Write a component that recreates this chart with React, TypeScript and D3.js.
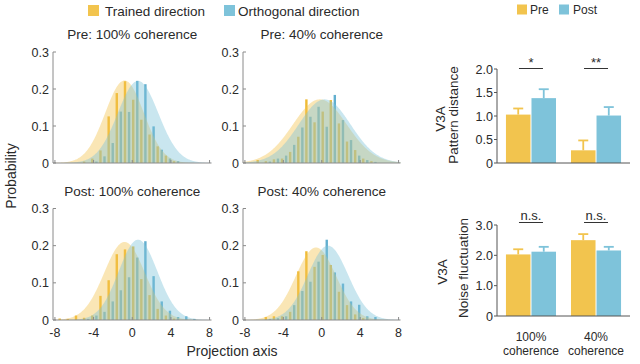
import React from "react";
import * as d3 from "d3";

const FONT = "'Liberation Sans', Arial, Helvetica, sans-serif";

// ---------- Histogram data ----------
const BIN_CENTERS = [-7.3, -6.46, -5.61, -4.77, -3.92, -3.08, -2.23, -1.39, -0.54, 0.31, 1.15, 2.0, 2.84, 3.69, 4.53, 5.38, 6.22, 7.07];

const PRE100_TRAINED = [0, 0, 0, 0.004, 0.012, 0.034, 0.126, 0.189, 0.221, 0.171, 0.117, 0.077, 0.045, 0.02, 0.005, 0, 0, 0];
const PRE100_ORTHO = [0, 0, 0, 0, 0.004, 0.018, 0.054, 0.139, 0.138, 0.222, 0.213, 0.099, 0.036, 0.012, 0.005, 0, 0, 0];

const PRE40_TRAINED = [0, 0.008, 0.005, 0.01, 0.012, 0.03, 0.071, 0.172, 0.11, 0.139, 0.17, 0.107, 0.058, 0.035, 0.012, 0.005, 0, 0];
const PRE40_ORTHO = [0, 0, 0.004, 0.012, 0.02, 0.049, 0.096, 0.125, 0.152, 0.098, 0.184, 0.116, 0.062, 0.02, 0.008, 0.003, 0, 0];

const POST100_TRAINED = [0.004, 0.003, 0.012, 0.006, 0.012, 0.065, 0.107, 0.177, 0.19, 0.198, 0.11, 0.067, 0.03, 0.012, 0.004, 0, 0, 0];
const POST100_ORTHO = [0, 0, 0, 0.003, 0.012, 0.022, 0.05, 0.08, 0.115, 0.168, 0.212, 0.118, 0.05, 0.025, 0.008, 0.01, 0.003, 0];

const POST40_TRAINED = [0, 0, 0.008, 0.01, 0.01, 0.022, 0.131, 0.185, 0.143, 0.175, 0.148, 0.076, 0.04, 0.015, 0.005, 0, 0, 0];
const POST40_ORTHO = [0, 0, 0.003, 0.005, 0.01, 0.04, 0.078, 0.103, 0.157, 0.216, 0.128, 0.098, 0.05, 0.041, 0.01, 0.008, 0, 0];

// fitted gaussian curves: [trained, orthogonal]
const CURVE_MEAN = [[-0.8, 0.6], [-0.2, 0.3], [-0.8, 0.6], [-0.6, 0.65]];
const CURVE_SD = [[2.0, 2.1], [2.8, 2.7], [2.1, 2.0], [2.1, 2.1]];
const CURVE_PEAK = [[0.223, 0.222], [0.172, 0.172], [0.21, 0.216], [0.195, 0.2]];

const HIST_TITLES = ["Pre: 100% coherence", "Pre: 40% coherence", "Post: 100% coherence", "Post: 40% coherence"];
const HIST_TRAINED = [PRE100_TRAINED, PRE40_TRAINED, POST100_TRAINED, POST40_TRAINED];
const HIST_ORTHO = [PRE100_ORTHO, PRE40_ORTHO, POST100_ORTHO, POST40_ORTHO];
const HIST_Y_TICKS = [0, 0.1, 0.2, 0.3];
const HIST_Y_LABELS = ["0", "0.1", "0.2", "0.3"];
const HIST_X_TICKS = [-8, -4, 0, 4, 8];

// ---------- Bar chart data ----------
const GROUPS = ["100%", "40%"];
const CONDS = ["Pre", "Post"];
const PATTERN_PRE = [1.03, 0.27];
const PATTERN_PRE_ERR = [0.13, 0.21];
const PATTERN_POST = [1.38, 1.01];
const PATTERN_POST_ERR = [0.19, 0.18];
const PATTERN_TICKS = [0, 0.5, 1, 1.5, 2];
const PATTERN_TICK_LABELS = ["0", "0.5", "1.0", "1.5", "2.0"];
const PATTERN_SIG = ["*", "**"];

const NOISE_PRE = [2.03, 2.5];
const NOISE_PRE_ERR = [0.17, 0.2];
const NOISE_POST = [2.12, 2.16];
const NOISE_POST_ERR = [0.16, 0.12];
const NOISE_TICKS = [0, 1, 2, 3];
const NOISE_TICK_LABELS = ["0", "1.0", "2.0", "3.0"];
const NOISE_SIG = ["n.s.", "n.s."];

const YELLOW = "#F2C44E";
const BLUE = "#7EC3DA";
const BAR_YELLOW = "#EFBB36";
const BAR_BLUE = "#62AFCF";
const AXIS_GREY = "#8a8a8a";
const TEXT = "#2a2a2a";

const BAR_OFFSET = 0.21;
const BAR_WIDTH = 0.25;

function HistPanel({ idx, left, right, bottom, top, showX }) {
  const x = d3.scaleLinear().domain([-8.2, 8.2]).range([left, right]);
  const y = d3.scaleLinear().domain([0, 0.3]).range([bottom, top]);
  const bw = x(BAR_WIDTH) - x(0);
  const grid = d3.range(-8.2, 8.2001, 0.05);
  const curve = (k) =>
    d3
      .area<number>()
      .x((v) => x(v))
      .y0(bottom)
      .y1((v) => {
        const m = CURVE_MEAN[idx][k];
        const s = CURVE_SD[idx][k];
        const p = CURVE_PEAK[idx][k];
        return y(p * Math.exp(-((v - m) ** 2) / (2 * s * s)));
      })(grid);
  const trained = HIST_TRAINED[idx];
  const ortho = HIST_ORTHO[idx];
  const cx = (left + right) / 2;
  return (
    <g>
      <text x={cx} y={top - 13} textAnchor="middle" fontSize={13.5} fill={TEXT}>
        {HIST_TITLES[idx]}
      </text>
      {BIN_CENTERS.map((c, i) =>
        trained[i] > 0 ? (
          <rect key={"t" + i} x={x(c - BAR_OFFSET) - bw / 2} y={y(trained[i])} width={bw} height={bottom - y(trained[i])} fill={BAR_YELLOW} />
        ) : null
      )}
      {BIN_CENTERS.map((c, i) =>
        ortho[i] > 0 ? (
          <rect key={"o" + i} x={x(c + BAR_OFFSET) - bw / 2} y={y(ortho[i])} width={bw} height={bottom - y(ortho[i])} fill={BAR_BLUE} />
        ) : null
      )}
      <path d={curve(0) || ""} fill={YELLOW} fillOpacity={0.42} />
      <path d={curve(1) || ""} fill={BLUE} fillOpacity={0.42} />
      {/* axes */}
      <line x1={left} x2={left} y1={top} y2={bottom} stroke={AXIS_GREY} strokeWidth={1} />
      <line x1={left} x2={right} y1={bottom} y2={bottom} stroke={AXIS_GREY} strokeWidth={1} />
      {HIST_Y_TICKS.map((t, i) => (
        <g key={"yt" + i}>
          <line x1={left} x2={left + 3} y1={y(t)} y2={y(t)} stroke={AXIS_GREY} />
          <text x={left - 4} y={y(t)} dy="0.36em" textAnchor="end" fontSize={12.5} fill={TEXT}>
            {HIST_Y_LABELS[i]}
          </text>
        </g>
      ))}
      {HIST_X_TICKS.map((t, i) => (
        <g key={"xt" + i}>
          <line x1={x(t)} x2={x(t)} y1={bottom} y2={bottom - 3} stroke={AXIS_GREY} />
          {showX ? (
            <text x={x(t)} y={bottom + 17} textAnchor="middle" fontSize={12.5} fill={TEXT}>
              {t}
            </text>
          ) : null}
        </g>
      ))}
    </g>
  );
}

function BarPanel({ top, bottom, yMax, ticks, tickLabels, pre, preErr, post, postErr, sig, sigTextY, sigLineY, ylabel, ylabelX, v3aX, labelCY, showX }) {
  const left = 497;
  const right = 630;
  const gx = d3.scaleBand().domain(GROUPS).range([left, right]).paddingInner(0.215).paddingOuter(0.13);
  const cxs = d3.scaleBand().domain(CONDS).range([0, gx.bandwidth()]).padding(0);
  const y = d3.scaleLinear().domain([0, yMax]).range([bottom, top]);
  const series = [
    { cond: "Pre", vals: pre, errs: preErr, color: YELLOW },
    { cond: "Post", vals: post, errs: postErr, color: BLUE },
  ];
  return (
    <g>
      {GROUPS.map((g, gi) =>
        series.map((s) => {
          const x0 = (gx(g) as number) + (cxs(s.cond) as number);
          const w = cxs.bandwidth();
          const v = s.vals[gi];
          const e = s.errs[gi];
          const xc = x0 + w / 2;
          return (
            <g key={g + s.cond}>
              <rect x={x0 + 0.5} y={y(v)} width={w - 1} height={bottom - y(v)} fill={s.color} />
              <line x1={xc} x2={xc} y1={y(v)} y2={y(v + e)} stroke={s.color} strokeWidth={1.8} />
              <line x1={xc - 5} x2={xc + 5} y1={y(v + e)} y2={y(v + e)} stroke={s.color} strokeWidth={1.8} />
            </g>
          );
        })
      )}
      {GROUPS.map((g, gi) => {
        const c = (gx(g) as number) + gx.bandwidth() / 2;
        return (
          <g key={"sig" + g}>
            <text x={c} y={sigTextY} textAnchor="middle" fontSize={13} fill={TEXT}>
              {sig[gi]}
            </text>
            <line x1={c - 12} x2={c + 12} y1={sigLineY} y2={sigLineY} stroke="#333" strokeWidth={1} />
          </g>
        );
      })}
      <line x1={left} x2={left} y1={y(yMax)} y2={bottom} stroke="#555" strokeWidth={1} />
      <line x1={left} x2={right} y1={bottom} y2={bottom} stroke="#555" strokeWidth={1} />
      {ticks.map((t, i) => (
        <g key={"t" + i}>
          <line x1={left - 3} x2={left} y1={y(t)} y2={y(t)} stroke="#555" />
          <text x={left - 4} y={y(t)} dy="0.36em" textAnchor="end" fontSize={12.5} fill={TEXT}>
            {tickLabels[i]}
          </text>
        </g>
      ))}
      <text transform={`translate(${ylabelX},${labelCY}) rotate(-90)`} textAnchor="middle" dy="0.35em" fontSize={13.5} fill={TEXT}>
        {ylabel}
      </text>
      <text transform={`translate(${v3aX},${labelCY + 4}) rotate(-90)`} textAnchor="middle" dy="0.35em" fontSize={13.5} fill={TEXT}>
        V3A
      </text>
      {showX
        ? GROUPS.map((g) => {
            const c = (gx(g) as number) + gx.bandwidth() / 2;
            return (
              <g key={"xl" + g}>
                <text x={c} y={341} textAnchor="middle" fontSize={12} fill={TEXT}>
                  {g}
                </text>
                <text x={c} y={355} textAnchor="middle" fontSize={12} fill={TEXT}>
                  coherence
                </text>
              </g>
            );
          })
        : null}
    </g>
  );
}

export default function App() {
  return (
    <svg width={640} height={364} style={{ position: "absolute", left: 0, top: 0, background: "#fff" }} fontFamily={FONT}>
      {/* left legend */}
      <rect x={88} y={5} width={11} height={11} fill={YELLOW} />
      <text x={105} y={16} fontSize={13.5} fill={TEXT}>Trained direction</text>
      <rect x={224} y={5} width={11} height={11} fill={BLUE} />
      <text x={238} y={16} fontSize={13.5} fill={TEXT}>Orthogonal direction</text>

      <HistPanel idx={0} left={53} right={211.5} bottom={163} top={52} showX={false} />
      <HistPanel idx={1} left={243} right={400.5} bottom={163} top={52} showX={false} />
      <HistPanel idx={2} left={53} right={211.5} bottom={320} top={208.5} showX={true} />
      <HistPanel idx={3} left={243} right={400.5} bottom={320} top={208.5} showX={true} />

      <text transform="translate(11,176) rotate(-90)" textAnchor="middle" dy="0.35em" fontSize={14} fill={TEXT}>
        Probability
      </text>
      <text x={232} y={356} textAnchor="middle" fontSize={14} fill={TEXT}>
        Projection axis
      </text>

      {/* right legend */}
      <rect x={517} y={4.5} width={10} height={10} fill={YELLOW} />
      <text x={530} y={14} fontSize={12} fill={TEXT}>Pre</text>
      <rect x={559} y={4.5} width={10} height={10} fill={BLUE} />
      <text x={573} y={14} fontSize={12} fill={TEXT}>Post</text>

      <BarPanel
        top={69}
        bottom={163}
        yMax={2}
        ticks={PATTERN_TICKS}
        tickLabels={PATTERN_TICK_LABELS}
        pre={PATTERN_PRE}
        preErr={PATTERN_PRE_ERR}
        post={PATTERN_POST}
        postErr={PATTERN_POST_ERR}
        sig={PATTERN_SIG}
        sigTextY={67}
        sigLineY={68.5}
        ylabel="Pattern distance"
        ylabelX={453}
        v3aX={440}
        labelCY={115}
        showX={false}
      />
      <BarPanel
        top={225}
        bottom={316}
        yMax={3}
        ticks={NOISE_TICKS}
        tickLabels={NOISE_TICK_LABELS}
        pre={NOISE_PRE}
        preErr={NOISE_PRE_ERR}
        post={NOISE_POST}
        postErr={NOISE_POST_ERR}
        sig={NOISE_SIG}
        sigTextY={219.5}
        sigLineY={222.5}
        ylabel="Noise fluctuation"
        ylabelX={463}
        v3aX={442}
        labelCY={268}
        showX={true}
      />
    </svg>
  );
}
